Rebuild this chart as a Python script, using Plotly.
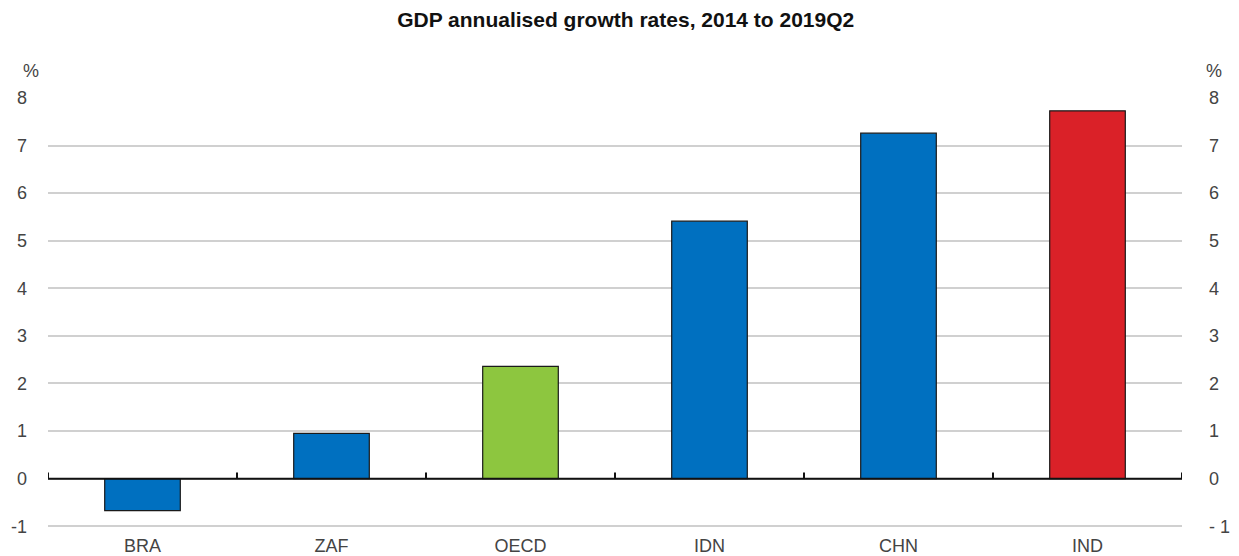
import plotly.graph_objects as go

categories = ["BRA", "ZAF", "OECD", "IDN", "CHN", "IND"]
values = [-0.67, 0.95, 2.36, 5.41, 7.26, 7.73]
colors = ["#0070C0", "#0070C0", "#8DC63F", "#0070C0", "#0070C0", "#DA2128"]
y_ticks = [-1, 0, 1, 2, 3, 4, 5, 6, 7, 8]
y_left_text = ["-1", "0", "1", "2", "3", "4", "5", "6", "7", "8"]
y_right_text = ["- 1", "0", "1", "2", "3", "4", "5", "6", "7", "8"]

font_family = "Liberation Sans, Arial, sans-serif"
tick_font = dict(size=18, color="#444444", family=font_family)
y_range = [-1.1, 8.02]

fig = go.Figure()
fig.add_trace(go.Bar(
    x=list(range(len(categories))), y=values,
    marker=dict(color=colors, line=dict(color="#1a1a1a", width=1.2)),
    width=0.4, showlegend=False,
))

shapes = []
# zero line
shapes.append(dict(type="line", xref="x", yref="y", x0=-0.5, x1=len(categories) - 0.5,
                   y0=0, y1=0, line=dict(color="#111111", width=2), layer="above"))
# small upward ticks at category boundaries
for i in range(len(categories) + 1):
    shapes.append(dict(type="line", xref="x", yref="y", x0=i - 0.5, x1=i - 0.5,
                       y0=0, y1=0.13, line=dict(color="#111111", width=2), layer="above"))

fig.update_layout(
    width=1239, height=556,
    margin=dict(l=48, r=57, t=97, b=25, autoexpand=False),
    paper_bgcolor="white", plot_bgcolor="white",
    font=dict(family=font_family, color="#444444", size=18),
    title=dict(text="<b>GDP annualised growth rates, 2014 to 2019Q2</b>",
               x=0.505, xanchor="center", y=0.965, yanchor="middle",
               font=dict(size=21, color="#111111", family=font_family)),
    bargap=0.6,
    xaxis=dict(
        tickmode="array", tickvals=list(range(len(categories))), ticktext=categories,
        range=[-0.5, len(categories) - 0.5], showgrid=False, zeroline=False,
        showline=False, ticks="", tickfont=tick_font, automargin=False,
        ticklabelstandoff=2,
    ),
    yaxis=dict(
        range=y_range, tickmode="array", tickvals=y_ticks, ticktext=y_left_text,
        showgrid=True, gridcolor="#d0d0d0", gridwidth=2, zeroline=False,
        showline=False, ticks="", ticklabelstandoff=20, automargin=False,
        tickfont=tick_font,
    ),
    yaxis2=dict(
        range=y_range, overlaying="y", side="right", tickmode="array",
        tickvals=y_ticks, ticktext=y_right_text, showgrid=False, zeroline=False,
        showline=False, ticks="", ticklabelstandoff=26, automargin=False,
        tickfont=tick_font,
    ),
    shapes=shapes,
    annotations=[
        dict(text="%", xref="paper", yref="paper", x=-0.006, y=1.06, xanchor="right",
             yanchor="middle", showarrow=False, font=tick_font),
        dict(text="%", xref="paper", yref="paper", x=1.028, y=1.06, xanchor="center",
             yanchor="middle", showarrow=False, font=tick_font),
    ],
)

fig.add_trace(go.Scatter(x=[0], y=[0], yaxis="y2", mode="markers",
                         marker=dict(opacity=0), showlegend=False, hoverinfo="skip"))

fig.write_html("out.html")
